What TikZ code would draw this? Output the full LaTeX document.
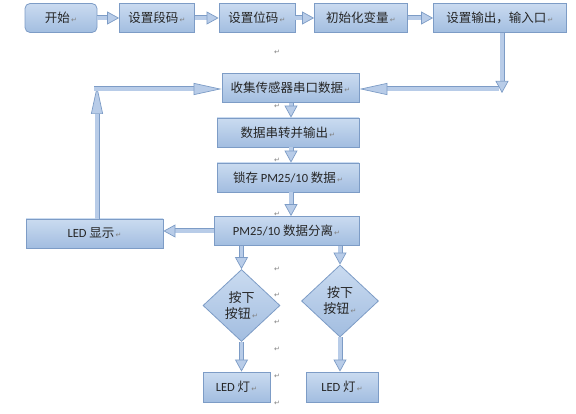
\documentclass[tikz,border=0pt]{standalone}
\usepackage{fontspec}
\setmainfont{Noto Sans CJK SC}
\newfontfamily\lat{Carlito}
\newfontfamily\parafont{DejaVu Sans}
\usetikzlibrary{arrows.meta,positioning,shapes.geometric}
\definecolor{boxtop}{HTML}{CADBF0}
\definecolor{boxbot}{HTML}{A2BDE0}
\definecolor{boxline}{HTML}{7D9CC6}
\definecolor{arrfill}{HTML}{B8CCE8}
\definecolor{textgray}{HTML}{262626}
\newcommand{\pmark}{{\parafont\scriptsize\color{gray}\,↵}}
\tikzset{
  stepbox/.style={rectangle, draw=boxline, thick, top color=boxtop, bottom color=boxbot, text=textgray, minimum height=29pt, inner sep=2pt, font=\fontsize{12.5}{14}\selectfont},
  startbox/.style={stepbox, rounded corners=5pt},
  choice/.style={diamond, draw=boxline, thick, top color=boxtop, bottom color=boxbot, text=textgray, minimum width=77pt, minimum height=72pt, inner sep=0pt, aspect=1.07, align=center, font=\fontsize{13}{16}\selectfont},
  blockarrow/.style={draw=boxline, line width=0.7pt, double=arrfill, double distance=3.6pt, -{Triangle[length=12pt, width=13pt, fill=arrfill]}},
  longarrow/.style={blockarrow, -{Triangle[length=28pt, width=12pt, fill=arrfill]}},
  pm/.style={font=\parafont\scriptsize, text=gray, inner sep=0pt}
}

\begin{document}
\begin{tikzpicture}[x=1pt, y=-1pt]
  \useasboundingbox (0,0) rectangle (576,414);
  % top row
  \node[startbox, minimum width=72pt] (start) at (61,18) {开始\pmark};
  \node[stepbox, minimum width=75pt] (seg) at (157,18) {设置段码\pmark};
  \node[stepbox, minimum width=76pt] (pos) at (257,18) {设置位码\pmark};
  \node[stepbox, minimum width=93pt] (init) at (361,18) {初始化变量\pmark};
  \node[stepbox, minimum width=133pt] (io) at (500,18) {设置输出，输入口\pmark};
  \draw[blockarrow] (start) -- (seg);
  \draw[blockarrow] (seg) -- (pos);
  \draw[blockarrow] (pos) -- (init);
  \draw[blockarrow] (init) -- (io);
  % main column
  \node[stepbox, minimum width=137pt] (collect) at (290.5,88) {收集传感器串口数据\pmark};
  \node[stepbox, minimum width=142pt] (conv) at (288,132.5) {数据串转并输出\pmark};
  \node[stepbox, minimum width=142pt] (latch) at (288,177.5) {锁存 {\lat PM25/10} 数据\pmark};
  \node[stepbox, minimum width=145pt] (split) at (286.5,231) {{\lat PM25/10} 数据分离\pmark};
  \node[stepbox, minimum width=137pt] (show) at (94.5,233.5) {{\lat LED} 显示\pmark};
  \coordinate (c1) at (502,93);
  \coordinate (c2) at (499,89);
  \draw[blockarrow] (io.south -| c1) -- (c1);
  \draw[longarrow] (c2) -- (collect.east |- c2);
  \draw[blockarrow] (collect.south -| 291,0) -- (conv.north -| 291,0);
  \draw[blockarrow] (conv.south -| 291,0) -- (latch.north -| 291,0);
  \draw[blockarrow] (latch.south -| 291,0) -- (split.north -| 291,0);
  \draw[blockarrow] (split.west) -- (show.east |- split.west);
  \coordinate (c3) at (97,86);
  \coordinate (c4) at (94,89);
  \draw[longarrow] (show.north -| c3) -- (c3);
  \draw[longarrow] (c4) -- (collect.west |- c4);
  % buttons
  \node[choice] (btnl) at (241.5,305.5) {按下\\按钮\pmark};
  \node[choice] (btnr) at (340,301) {按下\\按钮\pmark};
  \node[stepbox, minimum width=67pt, minimum height=30pt] (ledl) at (236.5,387) {{\lat LED} 灯\pmark};
  \node[stepbox, minimum width=72pt, minimum height=30pt] (ledr) at (342,387) {{\lat LED} 灯\pmark};
  \draw[blockarrow] (split.south -| btnl) -- (btnl.north);
  \draw[blockarrow] (split.south -| btnr) -- (btnr.north);
  \draw[blockarrow] (btnl.south) -- (ledl.north -| btnl);
  \draw[blockarrow] (btnr.south) -- (ledr.north -| btnr);
  % stray paragraph marks
  \foreach \y [count=\i] in {52,106,160,214,269,295,322,349,376,403}
    \node[pm] (pm\i) at (277,\y) {↵};
\end{tikzpicture}
\end{document}
